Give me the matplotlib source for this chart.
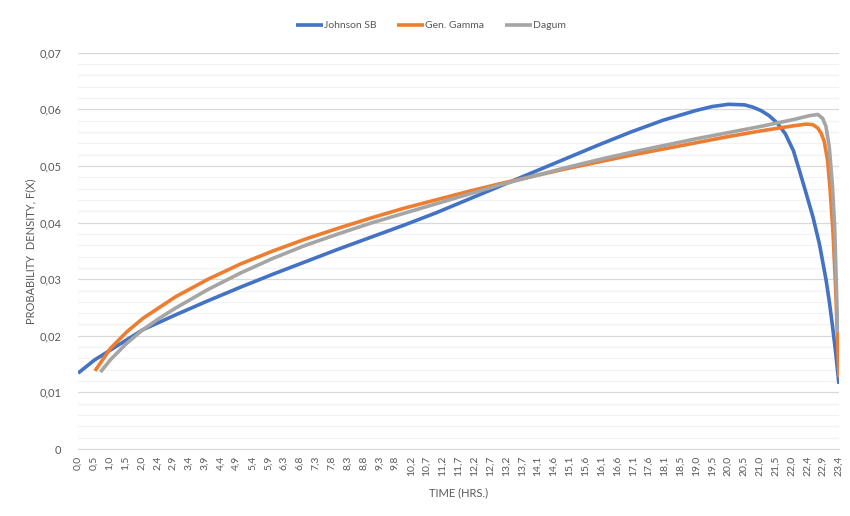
import matplotlib
matplotlib.use("Agg")
import matplotlib.pyplot as plt
from matplotlib.ticker import MultipleLocator, FixedLocator

plt.rcParams["font.family"] = ["Lato", "DejaVu Sans"]

TEXT = "#595959"

# data
johnson_x = [0.0, 0.5, 1.0, 1.5, 2.0, 3.0, 4.0, 5.0, 6.0, 7.0, 8.0, 9.0, 10.0,
             11.0, 12.0, 13.0, 14.0, 15.0, 16.0, 17.0, 18.0, 19.0, 19.5, 20.0,
             20.5, 20.75, 21.0, 21.25, 21.5, 21.75, 22.0, 22.2, 22.4, 22.6,
             22.8, 23.0, 23.1, 23.2, 23.3, 23.4]
johnson_y = [0.0134, 0.0157, 0.0175, 0.0193, 0.0211, 0.0237, 0.0262, 0.0286,
             0.0309, 0.0331, 0.0353, 0.0374, 0.0395, 0.0417, 0.0441, 0.0465,
             0.0489, 0.0513, 0.0537, 0.0560, 0.0581, 0.0598, 0.0605, 0.0609,
             0.0608, 0.0604, 0.0598, 0.0589, 0.0576, 0.0557, 0.0527, 0.0489,
             0.0450, 0.0410, 0.0362, 0.0300, 0.0262, 0.0218, 0.0170, 0.0115]

gamma_x = [0.52, 1.0, 1.5, 2.0, 3.0, 4.0, 5.0, 6.0, 7.0, 8.0, 9.0, 10.0, 11.0,
           12.0, 13.0, 14.0, 15.0, 16.0, 17.0, 18.0, 19.0, 20.0, 21.0, 22.0,
           22.4, 22.6, 22.75, 22.85, 22.95, 23.05, 23.13, 23.22, 23.3, 23.4]
gamma_y = [0.0138, 0.0178, 0.0207, 0.0231, 0.0269, 0.0300, 0.0327, 0.0350,
           0.0371, 0.0390, 0.0408, 0.0425, 0.0440, 0.0455, 0.0469, 0.0482,
           0.0495, 0.0507, 0.0519, 0.0530, 0.0541, 0.0552, 0.0562, 0.0571,
           0.0574, 0.0573, 0.0567, 0.0558, 0.0543, 0.0510, 0.0457, 0.0380,
           0.0280, 0.0127]

dagum_x = [0.69, 1.0, 1.5, 2.0, 2.5, 3.0, 4.0, 5.0, 6.0, 7.0, 8.0, 9.0, 10.0,
           11.0, 12.0, 13.0, 14.0, 15.0, 16.0, 17.0, 18.0, 19.0, 20.0, 21.0,
           22.0, 22.5, 22.75, 22.9, 23.0, 23.1, 23.2, 23.27, 23.32, 23.36]
dagum_y = [0.0136, 0.0158, 0.0187, 0.0211, 0.0231, 0.0249, 0.0282, 0.0311,
           0.0337, 0.0360, 0.0380, 0.0399, 0.0416, 0.0433, 0.0450, 0.0467,
           0.0482, 0.0497, 0.0511, 0.0524, 0.0536, 0.0548, 0.0559, 0.0570,
           0.0582, 0.0589, 0.0591, 0.0584, 0.0570, 0.0535, 0.0465, 0.0390,
           0.0290, 0.0206]

time_labels = ["0,0", "0,5", "1,0", "1,5", "2,0", "2,4", "2,9", "3,4", "3,9",
               "4,4", "4,9", "5,4", "5,9", "6,3", "6,8", "7,3", "7,8", "8,3",
               "8,8", "9,3", "9,8", "10,2", "10,7", "11,2", "11,7", "12,2",
               "12,7", "13,2", "13,7", "14,1", "14,6", "15,1", "15,6", "16,1",
               "16,6", "17,1", "17,6", "18,1", "18,5", "19,0", "19,5", "20,0",
               "20,5", "21,0", "21,5", "22,0", "22,4", "22,9", "23,4"]
y_labels = ["0", "0,01", "0,02", "0,03", "0,04", "0,05", "0,06", "0,07"]

fig = plt.figure(figsize=(8.5, 5.16), dpi=100)
ax = fig.add_axes([0.0918, 0.1298, 0.8952, 0.7679])

line_kw = dict(lw=2.6, solid_capstyle="butt", solid_joinstyle="round", zorder=3)
ax.plot(johnson_x, johnson_y, color="#4472C4", label="Johnson SB", **line_kw)
ax.plot(gamma_x, gamma_y, color="#ED7D31", label="Gen. Gamma", **line_kw)
ax.plot(dagum_x, dagum_y, color="#A5A5A5", label="Dagum", **line_kw)

ax.set_xlim(0, 23.4)
ax.set_ylim(0, 0.07)

tick_pos = [23.4 * i / (len(time_labels) - 1) for i in range(len(time_labels))]
ax.xaxis.set_major_locator(FixedLocator(tick_pos))
ax.set_xticklabels(time_labels, rotation=90, fontsize=7.5, color=TEXT)
ax.yaxis.set_major_locator(MultipleLocator(0.01))
ax.yaxis.set_minor_locator(MultipleLocator(0.002))
ax.set_yticks([i * 0.01 for i in range(len(y_labels))])
ax.set_yticklabels(y_labels, fontsize=8, color=TEXT)

ax.tick_params(axis="both", which="both", length=0)
ax.tick_params(axis="x", pad=5)
ax.tick_params(axis="y", pad=12)

ax.grid(axis="y", which="major", color="#d9d9d9", lw=0.9)
ax.grid(axis="y", which="minor", color="#f2f2f2", lw=0.9)
ax.grid(axis="x", visible=False)
for s in ["top", "right", "left"]:
    ax.spines[s].set_visible(False)
ax.spines["bottom"].set_color("#d9d9d9")
ax.set_axisbelow(True)

ax.set_xlabel("TIME (HRS.)", fontsize=8, color=TEXT, labelpad=8)
ax.set_ylabel("PROBABILITY  DENSITY, F(X)", fontsize=8, color=TEXT, labelpad=2)

fig.legend(loc="center", bbox_to_anchor=(0.507, 0.95), ncol=3, frameon=False,
           fontsize=7.5, labelcolor=TEXT, handlelength=2.6, handletextpad=0.1,
           columnspacing=2.0)

fig.savefig("out.png", dpi=100)
